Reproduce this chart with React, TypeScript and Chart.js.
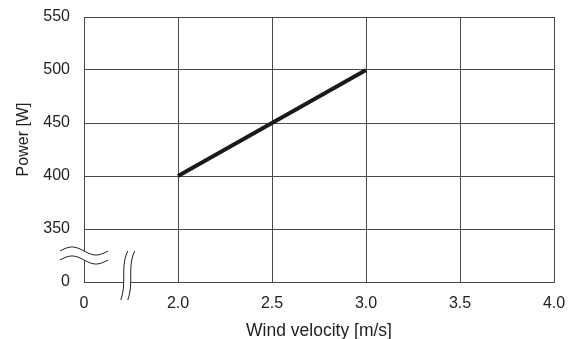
import React, { useEffect, useRef } from "react";
import { Chart, registerables } from "chart.js";

Chart.register(...registerables);

// Tick values shown on the broken axes (each takes one equal slot)
const xTickValues = [0, 2.0, 2.5, 3.0, 3.5, 4.0];
const xTickLabels = ["0", "2.0", "2.5", "3.0", "3.5", "4.0"];
const yTickValues = [0, 350, 400, 450, 500, 550];
const yTickLabels = ["0", "350", "400", "450", "500", "550"];

// Series: wind velocity [m/s] vs power [W]
const windVelocity = [2.0, 3.0];
const power = [400, 500];

const yTitle = "Power [W]";
const xTitle = "Wind velocity [m/s]";

// map a value onto the broken (slot-indexed) axis
function toSlot(v: number, ticks: number[]): number {
  if (v <= ticks[0]) return 0;
  for (let i = 1; i < ticks.length - 1; i++) {
    if (v <= ticks[i + 1]) {
      if (v < ticks[i]) return i;
      return i + (v - ticks[i]) / (ticks[i + 1] - ticks[i]);
    }
  }
  return ticks.length - 1;
}

const FONT = "'Liberation Sans', Arial, Helvetica, sans-serif";
const GRID = "#4a4a4a";
const TEXT = "#222";

const decorPlugin = {
  id: "axisBreaks",
  afterDraw(chart: any) {
    const { ctx, chartArea, scales } = chart;
    const xs = scales.x;
    const ys = scales.y;
    ctx.save();

    // y-axis title
    ctx.save();
    ctx.fillStyle = TEXT;
    ctx.font = `16px ${FONT}`;
    ctx.textAlign = "center";
    ctx.textBaseline = "middle";
    ctx.translate(24, (chartArea.top + chartArea.bottom) / 2 - 10);
    ctx.rotate(-Math.PI / 2);
    ctx.fillText(yTitle, 0, 0);
    ctx.restore();

    // left (y axis) break
    const yc = ys.getPixelForValue(0.5);
    const x0 = chartArea.left - 24;
    const x1 = chartArea.left + 24;
    const gap = 9;
    const amp = 4;
    const wave = (off: number) => {
      const pts: [number, number][] = [];
      for (let x = x0; x <= x1; x += 1) {
        const t = (x - x0) / (x1 - x0);
        pts.push([x, yc + off - amp * Math.sin(t * Math.PI * 2)]);
      }
      return pts;
    };
    const top = wave(-gap / 2);
    const bot = wave(gap / 2);
    ctx.fillStyle = "#ffffff";
    ctx.beginPath();
    top.forEach(([x, y], i) => (i ? ctx.lineTo(x, y) : ctx.moveTo(x, y)));
    for (let i = bot.length - 1; i >= 0; i--) ctx.lineTo(bot[i][0], bot[i][1]);
    ctx.closePath();
    ctx.fill();
    ctx.strokeStyle = "#222";
    ctx.lineWidth = 1;
    [top, bot].forEach((p) => {
      ctx.beginPath();
      p.forEach(([x, y], i) => (i ? ctx.lineTo(x, y) : ctx.moveTo(x, y)));
      ctx.stroke();
    });

    // bottom (x axis) break
    const xc = xs.getPixelForValue(0.46);
    const yA = chartArea.bottom - 31;
    const yB = chartArea.bottom + 18;
    const hgap = 7;
    const vwave = (off: number) => {
      const pts: [number, number][] = [];
      for (let y = yA; y <= yB; y += 1) {
        const t = (y - yA) / (yB - yA);
        const s = 1 - 2 * t;
        const a = s > 0 ? 4 : 3;
        pts.push([xc + off + a * s * s * s, y]);
      }
      return pts;
    };
    const l = vwave(-hgap / 2);
    const r = vwave(hgap / 2);
    ctx.beginPath();
    l.forEach(([x, y], i) => (i ? ctx.lineTo(x, y) : ctx.moveTo(x, y)));
    for (let i = r.length - 1; i >= 0; i--) ctx.lineTo(r[i][0], r[i][1]);
    ctx.closePath();
    ctx.fill();
    [l, r].forEach((p) => {
      ctx.beginPath();
      p.forEach(([x, y], i) => (i ? ctx.lineTo(x, y) : ctx.moveTo(x, y)));
      ctx.stroke();
    });
    ctx.restore();
  },
};

export default function App() {
  const ref = useRef<HTMLCanvasElement | null>(null);
  useEffect(() => {
    if (!ref.current) return;
    const data = windVelocity.map((v, i) => ({
      x: toSlot(v, xTickValues),
      y: toSlot(power[i], yTickValues),
    }));
    const chart = new Chart(ref.current, {
      type: "line",
      data: {
        datasets: [
          {
            data,
            borderColor: "#1a1a1a",
            borderWidth: 4,
            pointRadius: 0,
            fill: false,
          },
        ],
      },
      plugins: [decorPlugin],
      options: {
        animation: false,
        responsive: true,
        maintainAspectRatio: false,
        layout: { padding: { top: 17, right: 23, left: 0, bottom: 0 } },
        plugins: { legend: { display: false }, tooltip: { enabled: false } },
        scales: {
          x: {
            type: "linear",
            min: 0,
            max: xTickValues.length - 1,
            afterBuildTicks: (s: any) => {
              s.ticks = xTickValues.map((_, i) => ({ value: i }));
            },
            afterFit: (s: any) => {
              s.height = 57;
              s.paddingLeft = 0;
              s.paddingRight = 0;
            },
            ticks: {
              callback: (v: any) => xTickLabels[Math.round(v)] ?? "",
              font: { family: FONT, size: 16 },
              color: TEXT,
              padding: 12,
              maxRotation: 0,
            },
            grid: { color: GRID, lineWidth: 1, drawTicks: false },
            border: { color: GRID, width: 1 },
            title: {
              display: true,
              text: xTitle,
              font: { family: FONT, size: 17.5, lineHeight: 0.85 },
              color: TEXT,
              padding: { top: 0, bottom: 0 },
            },
          },
          y: {
            type: "linear",
            min: 0,
            max: yTickValues.length - 1,
            afterBuildTicks: (s: any) => {
              s.ticks = yTickValues.map((_, i) => ({ value: i }));
            },
            afterFit: (s: any) => {
              s.width = 84;
              s.paddingTop = 0;
              s.paddingBottom = 0;
            },
            ticks: {
              callback: (v: any) => yTickLabels[Math.round(v)] ?? "",
              font: { family: FONT, size: 16 },
              color: TEXT,
              padding: 14,
            },
            grid: { color: GRID, lineWidth: 1, drawTicks: false },
            border: { color: GRID, width: 1 },
          },
        },
      },
    } as any);
    return () => chart.destroy();
  }, []);
  return (
    <div style={{ position: "fixed", left: 0, top: 0, width: 577, height: 339, background: "#fff" }}>
      <canvas ref={ref} />
    </div>
  );
}
